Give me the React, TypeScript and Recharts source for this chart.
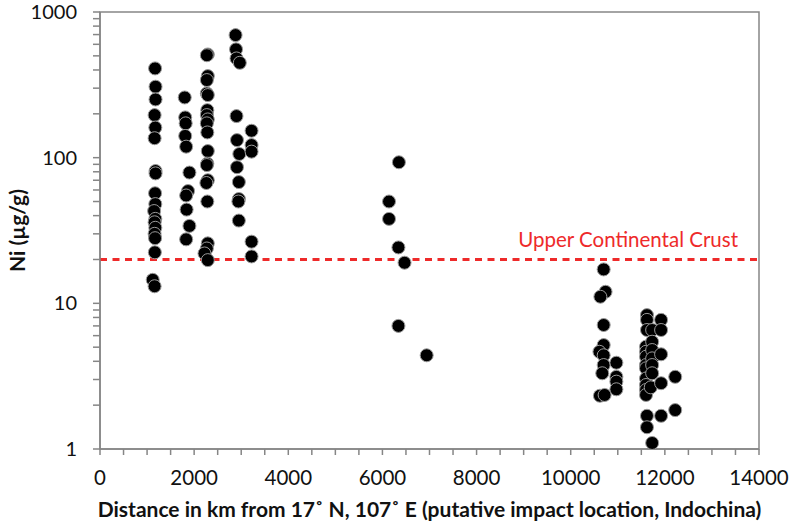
import { ScatterChart, Scatter, XAxis, YAxis, ReferenceLine, ReferenceArea } from 'recharts';

// Ni concentrations (µg/g) vs distance (km), grouped by sampling column
const westA = [
  [1170, 410], [1180, 307], [1180, 251], [1160, 196], [1175, 161], [1160, 136],
  [1180, 81], [1180, 78], [1170, 57], [1175, 48], [1150, 43], [1175, 38],
  [1160, 36], [1175, 33], [1160, 30], [1170, 28], [1165, 22.4], [1120, 14.5], [1160, 13.1],
];
const westB = [
  [1800, 259], [1810, 189], [1820, 172], [1810, 141], [1830, 119], [1900, 79],
  [1870, 59], [1830, 55], [1840, 44], [1900, 34], [1830, 27.5],
];
const westC = [
  [2290, 511], [2270, 505], [2290, 363], [2270, 341], [2270, 276], [2290, 269],
  [2280, 212], [2270, 196], [2290, 183], [2270, 172], [2280, 149], [2290, 111],
  [2280, 91], [2270, 89], [2290, 70], [2260, 67], [2280, 50], [2290, 25.8],
  [2270, 23.8], [2220, 22], [2290, 19.8],
];
const westD = [
  [2880, 694], [2890, 554], [2900, 480], [2970, 448], [2900, 193], [2910, 132],
  [2960, 106], [2910, 86], [2950, 68], [2950, 52], [2940, 50], [2950, 37],
];
const westE = [[3220, 153], [3220, 122], [3220, 110], [3220, 26.5], [3220, 21]];
const middle = [
  [6350, 93], [6140, 50], [6140, 38], [6340, 24.2], [6470, 19], [6340, 7], [6940, 4.4],
];
const eastA = [
  [10700, 17.1], [10740, 12], [10630, 11.1], [10700, 7.1], [10700, 5.17], [10610, 4.65],
  [10700, 4.4], [10700, 3.77], [10670, 3.31], [10620, 2.32], [10720, 2.35],
];
const eastB = [[10970, 3.91], [10970, 3.13], [10970, 2.9], [10970, 2.57]];
const eastC = [
  [11620, 8.3], [11620, 7.7], [11620, 6.56], [11600, 5.04], [11600, 4.65], [11600, 4.3],
  [11600, 3.77], [11600, 3.58], [11600, 3.05], [11600, 2.75], [11600, 2.54], [11600, 2.35],
  [11620, 1.69], [11620, 1.41],
];
const eastD = [
  [11730, 6.56], [11730, 5.45], [11730, 4.78], [11730, 4.19], [11730, 3.77], [11730, 3.31],
  [11700, 2.65], [11730, 1.1],
];
const eastE = [[11920, 7.7], [11920, 6.56], [11920, 4.47], [11920, 2.83], [11920, 1.69]];
const eastF = [[12220, 3.13], [12220, 1.85]];

const crustNi = 20;
const crustLabel = 'Upper Continental Crust';

const xTicks = Array.from({ length: 29 }, (_, i) => i * 500);
const xMajor = [0, 2000, 4000, 6000, 8000, 10000, 12000, 14000];
const yMajor = [1, 10, 100, 1000];
const yTicks = [1, 2, 3, 4, 5, 6, 7, 8, 9, 10, 20, 30, 40, 50, 60, 70, 80, 90, 100,
  200, 300, 400, 500, 600, 700, 800, 900, 1000];

const points = [westA, westB, westC, westD, westE, middle, eastA, eastB, eastC, eastD, eastE, eastF]
  .flat()
  .map(([x, y]) => ({ x, y }));

const AXIS = '#868686';
const RED = '#ee2a2a';
const FONT = 'Lato, "Open Sans", sans-serif';

// eslint-disable-next-line @typescript-eslint/no-explicit-any
const XTick = ({ x, y, payload }: any) =>
  xMajor.includes(payload.value) ? (
    <text x={x} y={y} dy={26} textAnchor="middle" fontSize={20.5} fill="#111" fontFamily={FONT}>
      {payload.value}
    </text>
  ) : <g />;

// eslint-disable-next-line @typescript-eslint/no-explicit-any
const YTick = ({ x, y, payload }: any) =>
  yMajor.includes(payload.value) ? (
    <text x={x} y={y} dy={7} textAnchor="end" fontSize={20} fill="#111" fontFamily={FONT}>
      {payload.value}
    </text>
  ) : <g />;

// eslint-disable-next-line @typescript-eslint/no-explicit-any
const Dot = (p: any) => <circle cx={p.cx} cy={p.cy} r={6.5} fill="#000" stroke="#9a9a9a" strokeWidth={1} />;

export default function App() {
  return (
    <div style={{ width: 790, height: 526, background: '#fff' }}>
      <style>{'body{margin:0}'}</style>
      <ScatterChart width={790} height={526} margin={{ top: 12, right: 31, bottom: 0, left: 0 }}>
        <ReferenceArea x1={0} x2={14000} y1={1} y2={1000} fill="none" stroke={AXIS} strokeWidth={1.5} />
        <XAxis
          type="number"
          dataKey="x"
          domain={[0, 14000]}
          ticks={xTicks}
          interval={0}
          height={77}
          stroke={AXIS}
          strokeWidth={1.5}
          tickSize={6}
          tickMargin={4}
          tick={<XTick />}
          label={{
            value: 'Distance in km from 17˚ N, 107˚ E (putative impact location, Indochina)',
            position: 'insideBottom',
            offset: 9,
            fontSize: 21,
            fontWeight: 'bold',
            fill: '#111',
            fontFamily: FONT,
          }}
        />
        <YAxis
          type="number"
          dataKey="y"
          scale="log"
          domain={[1, 1000]}
          allowDataOverflow
          ticks={yTicks}
          interval={0}
          width={100}
          stroke={AXIS}
          strokeWidth={1.5}
          tickSize={7}
          tickMargin={16}
          tick={<YTick />}
          label={{
            // eslint-disable-next-line @typescript-eslint/no-explicit-any
            content: ({ viewBox }: any) => {
              const cx = 16;
              const cy = viewBox.y + viewBox.height / 2;
              return (
                <text x={cx} y={cy} transform={`rotate(-90 ${cx} ${cy})`} textAnchor="middle"
                  dominantBaseline="central" fontSize={21} fontWeight="bold" fill="#111" fontFamily={FONT}>
                  Ni (µg/g)
                </text>
              );
            },
          }}
        />
        <ReferenceLine
          y={crustNi}
          stroke={RED}
          strokeWidth={3}
          strokeDasharray="7 5.5"
          label={{
            // eslint-disable-next-line @typescript-eslint/no-explicit-any
            content: ({ viewBox }: any) => (
              <text x={viewBox.x + viewBox.width - 21} y={viewBox.y - 12} textAnchor="end"
                fontSize={20.5} fill={RED} fontFamily={FONT}>
                {crustLabel}
              </text>
            ),
          }}
        />
        <Scatter data={points} shape={Dot} isAnimationActive={false} />
      </ScatterChart>
    </div>
  );
}
